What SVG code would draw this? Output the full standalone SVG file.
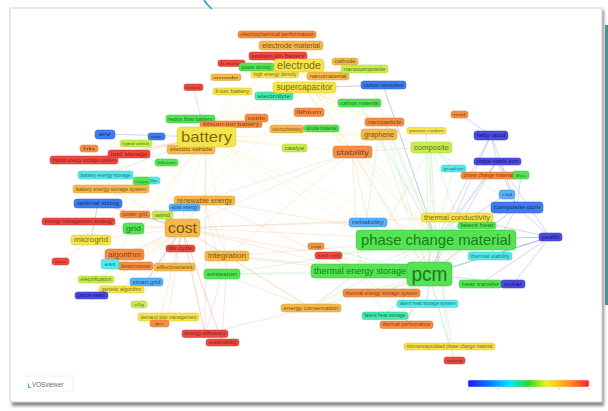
<svg xmlns="http://www.w3.org/2000/svg" width="608" height="411" viewBox="0 0 608 411">
<defs>
<filter id="sh" x="-5%" y="-5%" width="110%" height="110%"><feGaussianBlur stdDeviation="1.8"/></filter>
<linearGradient id="bar" x1="0" y1="0" x2="1" y2="0">
<stop offset="0" stop-color="#1818ff"/><stop offset="0.18" stop-color="#0a7cff"/><stop offset="0.35" stop-color="#08e4ff"/><stop offset="0.5" stop-color="#22e022"/><stop offset="0.65" stop-color="#f2f222"/><stop offset="0.82" stop-color="#ff9a22"/><stop offset="1" stop-color="#ff2222"/>
</linearGradient>
</defs>
<style>
text{font-family:"Liberation Sans",Arial,sans-serif;text-anchor:middle}
.nodes rect{stroke-width:0.5}
.r rect{fill:#ea4a42;stroke:#cf3a33}.r text{fill:#8e1f1a}
.o rect{fill:#f28f45;stroke:#d9742f}.o text{fill:#8c4214}
.oy rect{fill:#f5b84a;stroke:#dc9c30}.oy text{fill:#7d5512}
.y rect{fill:#f4e44e;stroke:#d9c732}.y text{fill:#7c6c0e}
.yg rect{fill:#c8ec52;stroke:#abd036}.yg text{fill:#5b7412}
.g rect{fill:#55e255;stroke:#38c638}.g text{fill:#1a7d1a}
.t rect{fill:#48e8ae;stroke:#2fcb90}.t text{fill:#0f7352}
.c rect{fill:#58e8ea;stroke:#38cacc}.c text{fill:#127a7c}
.lb rect{fill:#5cb0f2;stroke:#3e92d8}.lb text{fill:#154e8e}
.b rect{fill:#3f7cec;stroke:#2c5fcc}.b text{fill:#10307e}
.p rect{fill:#4c4ce2;stroke:#3434c4}.p text{fill:#16167a}
.edges path{fill:none;stroke-width:0.6}
.ey{stroke:#efd860;opacity:0.4}
.eo{stroke:#f0a868;opacity:0.4}
.eg{stroke:#7fd87f;opacity:0.4}
.eb{stroke:#7c7cea;opacity:0.55}
.er{stroke:#ee8a8a;opacity:0.4}
.ec{stroke:#7ee0e2;opacity:0.45}
</style>
<rect x="0" y="0" width="608" height="411" fill="#ffffff"/>
<rect x="12" y="10" width="592" height="396" fill="#8a8a8a" filter="url(#sh)"/>
<rect x="605" y="25" width="3" height="280" fill="#4e8f96"/>
<rect x="10" y="8" width="592" height="394" fill="#ffffff" stroke="#d4d4d4" stroke-width="1"/>
<path d="M204 0 Q207 5 212 9" fill="none" stroke="#2a9fc0" stroke-width="1.6"/>
<g id="connectors" class="edges">
<path class="ey" d="M206 137 L299 66 M206 137 L304 88 M206 137 L232 91 M206 137 L193 87 M206 137 L191 149 M206 137 L182 228 M206 137 L204 200 M206 137 L133 228 M206 137 L91 240 M206 137 L111 189 M206 137 L78 221 M206 137 L84 160 M206 137 L129 154 M206 137 L352 152 M206 137 L379 134 M206 137 L436 240 M206 137 L429 274 M206 137 L227 256 M206 137 L275 74 M206 137 L278 56 M206 137 L277 34 M206 137 L274 96 M206 137 L359 103 M206 137 L294 148 M206 137 L359 271 M206 137 L368 222 M206 137 L124 254 M206 137 L110 264 M206 137 L105 175 M299 66 L304 88 M299 66 L352 152 M299 66 L379 134 M299 66 L436 240 M299 66 L429 274 M304 88 L352 152 M304 88 L379 134 M304 88 L431 147 M304 88 L436 240 M304 88 L384 122 M304 88 L383 85 M304 88 L359 103 M299 66 L364 69 M299 66 L328 76 M304 88 L182 228 M299 66 L182 228 M304 88 L426 130 M304 88 L429 274 M91 240 L133 228 M91 240 L124 254 M91 240 L78 221 M91 240 L110 264 M91 240 L98 203 M457 217 L429 274 M457 217 L352 152"/>
<path class="eo" d="M182 228 L204 200 M182 228 L227 256 M182 228 L133 228 M182 228 L91 240 M182 228 L124 254 M182 228 L98 203 M182 228 L78 221 M182 228 L135 266 M182 228 L174 267 M182 228 L222 274 M182 228 L121 289 M182 228 L146 282 M182 228 L96 279 M182 228 L168 317 M182 228 L205 334 M182 228 L311 308 M182 228 L429 274 M182 228 L436 240 M182 228 L359 271 M182 228 L352 152 M182 228 L368 222 M182 228 L457 217 M182 228 L111 189 M182 228 L162 215 M182 228 L184 207 M182 228 L110 264 M182 228 L91 295 M182 228 L139 304 M182 228 L159 323 M182 228 L222 342 M352 152 L436 240 M352 152 L429 274 M352 152 L379 134 M352 152 L431 147 M352 152 L359 271 M352 152 L384 122 M352 152 L309 112 M352 152 L227 256 M352 152 L204 200 M352 152 L368 222 M227 256 L436 240 M227 256 L359 271 M227 256 L429 274 M227 256 L204 200 M227 256 L311 308 M204 200 L436 240 M204 200 L359 271 M204 200 L133 228 M204 200 L222 274 M381 293 L429 274 M406 324 L436 240 M311 308 L359 271"/>
<path class="eg" d="M436 240 L359 271 M436 240 L379 134 M436 240 L431 147 M436 240 L457 217 M436 240 L517 207 M436 240 L550 237 M436 240 L477 225 M436 240 L490 256 M436 240 L480 284 M436 240 L381 293 M436 240 L427 303 M436 240 L385 315 M436 240 L406 324 M436 240 L449 346 M436 240 L311 308 M436 240 L368 222 M436 240 L359 103 M436 240 L384 122 M436 240 L426 130 M436 240 L383 85 M436 240 L364 69 M436 240 L222 274 M436 240 L328 255 M436 240 L453 168 M436 240 L489 175 M436 240 L497 161 M429 274 L359 271 M429 274 L379 134 M429 274 L431 147 M429 274 L457 217 M429 274 L517 207 M429 274 L550 237 M429 274 L477 225 M429 274 L490 256 M429 274 L480 284 M429 274 L381 293 M429 274 L427 303 M429 274 L385 315 M429 274 L406 324 M429 274 L449 346 M429 274 L311 308 M429 274 L368 222 M429 274 L222 274 M429 274 L454 360 M429 274 L316 246 M429 274 L384 122 M429 274 L426 130 M359 271 L381 293 M359 271 L385 315 M359 271 L311 308 M359 271 L222 274 M359 271 L431 147 M359 271 L379 134 M431 147 L457 217 M431 147 L517 207 M431 147 L379 134 M431 147 L453 168 M359 103 L379 134 M222 274 L311 308"/>
<path class="eb" d="M550 237 L517 207 M550 237 L436 240 M550 237 L429 274 M550 237 L497 161 M497 161 L491 135 M491 135 L436 240 M491 135 L517 207 M517 207 L429 274 M517 207 L497 161 M507 194 L436 240 M513 284 L429 274 M513 284 L550 237 M491 135 L459 114 M491 135 L429 274 M497 161 L429 274 M497 161 L457 217 M550 237 L457 217 M550 237 L490 256 M517 207 L490 256 M507 194 L517 207 M521 175 L517 207 M550 237 L480 284 M105 134 L206 137 M98 203 L182 228 M98 203 L91 240 M146 282 L182 228 M91 295 L121 289 M383 85 L436 240 M383 85 L304 88"/>
<path class="er" d="M205 334 L182 228 M205 334 L311 308 M222 342 L182 228 M78 221 L133 228 M84 160 L206 137 M129 154 L206 137 M278 56 L299 66 M231 63 L299 66 M193 87 L206 137 M60 261 L91 240 M328 255 L359 271 M205 334 L227 256 M222 342 L227 256 M205 334 L206 137 M180 248 L182 228 M454 360 L436 240"/>
<path class="ec" d="M105 175 L206 137 M105 175 L133 228 M110 264 L133 228 M490 256 L429 274 M427 303 L429 274 M453 168 L431 147 M385 315 L429 274 M274 96 L304 88"/>
</g>
<g class="nodes">
<g id="n-electrochemical-performance" class="o"><rect x="238" y="31" width="78" height="7" rx="2.5"/><text x="277" y="36.1" font-size="4.8" textLength="73" lengthAdjust="spacingAndGlyphs">electrochemical performance</text></g>
<g id="n-electrode-material" class="oy"><rect x="259" y="41" width="64" height="9" rx="3"/><text x="291" y="47.6" font-size="6.5" textLength="58" lengthAdjust="spacingAndGlyphs">electrode material</text></g>
<g id="n-sodium-ion-battery" class="r"><rect x="249" y="52" width="58" height="8" rx="2.5"/><text x="278" y="57.7" font-size="5.2" textLength="53" lengthAdjust="spacingAndGlyphs">sodium ion battery</text></g>
<g id="n-li-metal" class="r"><rect x="218" y="60" width="27" height="6.5" rx="2"/><text x="231.5" y="64.7" font-size="4.3" textLength="22" lengthAdjust="spacingAndGlyphs">li metal</text></g>
<g id="n-power-density" class="g"><rect x="239" y="63" width="35" height="8" rx="2.5"/><text x="256.5" y="68.6" font-size="4.8" textLength="30" lengthAdjust="spacingAndGlyphs">power density</text></g>
<g id="n-high-energy-density" class="y"><rect x="251" y="71" width="48" height="7" rx="2.5"/><text x="275" y="76" font-size="4.5" textLength="43" lengthAdjust="spacingAndGlyphs">high energy density</text></g>
<g id="n-nanomaterial" class="oy"><rect x="307" y="72" width="42" height="8" rx="2.5"/><text x="328" y="77.6" font-size="4.8" textLength="37" lengthAdjust="spacingAndGlyphs">nanomaterial</text></g>
<g id="n-cathode" class="oy"><rect x="332" y="58" width="26" height="7" rx="2.5"/><text x="345" y="63" font-size="4.5" textLength="21" lengthAdjust="spacingAndGlyphs">cathode</text></g>
<g id="n-nanocomposite" class="yg"><rect x="341" y="65" width="47" height="8" rx="2.5"/><text x="364.5" y="70.6" font-size="4.8" textLength="42" lengthAdjust="spacingAndGlyphs">nanocomposite</text></g>
<g id="n-anode" class="oy"><rect x="211" y="74" width="30" height="6.5" rx="2"/><text x="226" y="78.7" font-size="4.3" textLength="25" lengthAdjust="spacingAndGlyphs">anode</text></g>
<g id="n-lead-acid" class="r"><rect x="184" y="84" width="19" height="6.5" rx="2"/><text x="193.5" y="88.6" font-size="4" textLength="14" lengthAdjust="spacingAndGlyphs">lead acid</text></g>
<g id="n-li-ion-battery" class="y"><rect x="213" y="88" width="39" height="7" rx="2.5"/><text x="232.5" y="93" font-size="4.6" textLength="34" lengthAdjust="spacingAndGlyphs">li-ion battery</text></g>
<g id="n-electrolyte" class="t"><rect x="255" y="92" width="38" height="8" rx="2.5"/><text x="274" y="97.6" font-size="4.8" textLength="33" lengthAdjust="spacingAndGlyphs">electrolyte</text></g>
<g id="n-carbon-nanotubes" class="b"><rect x="361" y="81" width="45" height="8" rx="2.5"/><text x="383.5" y="86.6" font-size="4.8" textLength="40" lengthAdjust="spacingAndGlyphs">carbon nanotubes</text></g>
<g id="n-carbon-material" class="g"><rect x="338" y="99" width="43" height="8" rx="2.5"/><text x="359.5" y="104.6" font-size="4.8" textLength="38" lengthAdjust="spacingAndGlyphs">carbon material</text></g>
<g id="n-lithium" class="o"><rect x="294" y="108" width="30" height="8.5" rx="2.5"/><text x="309" y="113.8" font-size="4.8" textLength="25" lengthAdjust="spacingAndGlyphs">lithium</text></g>
<g id="n-nanoparticle" class="o"><rect x="365" y="118" width="39" height="8" rx="2.5"/><text x="384.5" y="123.6" font-size="4.8" textLength="34" lengthAdjust="spacingAndGlyphs">nanoparticle</text></g>
<g id="n-porous-carbon" class="y"><rect x="407" y="127.5" width="39" height="6.5" rx="2"/><text x="426.5" y="132.2" font-size="4.3" textLength="34" lengthAdjust="spacingAndGlyphs">porous carbon</text></g>
<g id="n-mof" class="o"><rect x="451" y="111" width="17" height="7" rx="2.5"/><text x="459.5" y="116" font-size="4.3" textLength="12" lengthAdjust="spacingAndGlyphs">mof</text></g>
<g id="n-fatty-acid" class="p"><rect x="474" y="131" width="34" height="9" rx="3"/><text x="491" y="137.1" font-size="4.8" textLength="29" lengthAdjust="spacingAndGlyphs">fatty acid</text></g>
<g id="n-redox-flow-battery" class="g"><rect x="166" y="115" width="49" height="8" rx="2.5"/><text x="190.5" y="120.6" font-size="4.8" textLength="44" lengthAdjust="spacingAndGlyphs">redox flow battery</text></g>
<g id="n-lithium-ion-battery" class="o"><rect x="200" y="121" width="62" height="6.5" rx="2"/><text x="231" y="125.7" font-size="4.5" textLength="56" lengthAdjust="spacingAndGlyphs">lithium-ion battery</text></g>
<g id="n-oxide" class="o"><rect x="245" y="114" width="23" height="8" rx="2.5"/><text x="256.5" y="119.5" font-size="4.5" textLength="18" lengthAdjust="spacingAndGlyphs">oxide</text></g>
<g id="n-electrochemistry" class="oy"><rect x="270" y="125" width="34" height="8" rx="2.5"/><text x="287" y="130.5" font-size="4.5" textLength="29" lengthAdjust="spacingAndGlyphs">electrochemistry</text></g>
<g id="n-anode-material" class="g"><rect x="304" y="125" width="35" height="7" rx="2.5"/><text x="321.5" y="130" font-size="4.5" textLength="30" lengthAdjust="spacingAndGlyphs">anode material</text></g>
<g id="n-ev" class="b"><rect x="95" y="130" width="20" height="9" rx="3"/><text x="105" y="136" font-size="4.5" textLength="12" lengthAdjust="spacingAndGlyphs">ev</text></g>
<g id="n-soc" class="b"><rect x="148" y="133" width="17" height="7" rx="2.5"/><text x="156.5" y="138" font-size="4.3" textLength="12" lengthAdjust="spacingAndGlyphs">soc</text></g>
<g id="n-hybrid-vehicle" class="yg"><rect x="120" y="140" width="32" height="7" rx="2.5"/><text x="136" y="145" font-size="4.3" textLength="27" lengthAdjust="spacingAndGlyphs">hybrid vehicle</text></g>
<g id="n-lib" class="o"><rect x="80" y="145" width="18" height="7" rx="2.5"/><text x="89" y="150" font-size="4.3" textLength="12" lengthAdjust="spacingAndGlyphs">lib</text></g>
<g id="n-grid-storage" class="r"><rect x="108" y="150" width="42" height="8" rx="2.5"/><text x="129" y="155.5" font-size="4.6" textLength="37" lengthAdjust="spacingAndGlyphs">grid storage</text></g>
<g id="n-hybrid-energy-storage-system" class="r"><rect x="50" y="156" width="68" height="8" rx="2.5"/><text x="84" y="161.5" font-size="4.6" textLength="63" lengthAdjust="spacingAndGlyphs">hybrid energy storage system</text></g>
<g id="n-electric-vehicle" class="oy"><rect x="167" y="145" width="48" height="9" rx="3"/><text x="191" y="151.3" font-size="5.5" textLength="42" lengthAdjust="spacingAndGlyphs">electric vehicle</text></g>
<g id="n-lithium-green" class="g"><rect x="155" y="159" width="23" height="7" rx="2.5"/><text x="166.5" y="164" font-size="4.3" textLength="18" lengthAdjust="spacingAndGlyphs">lithium</text></g>
<g id="n-catalyst" class="yg"><rect x="282" y="144" width="25" height="8" rx="2.5"/><text x="294.5" y="149.5" font-size="4.5" textLength="20" lengthAdjust="spacingAndGlyphs">catalyst</text></g>
<g id="n-battery-energy-storage" class="c"><rect x="78" y="171" width="55" height="8" rx="2.5"/><text x="105.5" y="176.5" font-size="4.6" textLength="50" lengthAdjust="spacingAndGlyphs">battery energy storage</text></g>
<g id="n-lfp" class="c"><rect x="148" y="177" width="12" height="7" rx="2.5"/><text x="154" y="182" font-size="4" textLength="7" lengthAdjust="spacingAndGlyphs">lfp</text></g>
<g id="n-charging" class="g"><rect x="133" y="177" width="17" height="8" rx="2.5"/><text x="141.5" y="182.5" font-size="4.3" textLength="13" lengthAdjust="spacingAndGlyphs">charging</text></g>
<g id="n-battery-energy-storage-system" class="oy"><rect x="73" y="185" width="76" height="8" rx="2.5"/><text x="111" y="190.6" font-size="4.8" textLength="70" lengthAdjust="spacingAndGlyphs">battery energy storage system</text></g>
<g id="n-optimal-sizing" class="b"><rect x="74" y="199" width="48" height="9" rx="3"/><text x="98" y="205.2" font-size="5" textLength="42" lengthAdjust="spacingAndGlyphs">optimal sizing</text></g>
<g id="n-power-grid" class="o"><rect x="120" y="211" width="30" height="7" rx="2.5"/><text x="135" y="216" font-size="4.5" textLength="25" lengthAdjust="spacingAndGlyphs">power grid</text></g>
<g id="n-wind" class="yg"><rect x="152" y="211" width="21" height="8" rx="2.5"/><text x="162.5" y="216.5" font-size="4.5" textLength="15" lengthAdjust="spacingAndGlyphs">wind</text></g>
<g id="n-energy-management-strategy" class="r"><rect x="42" y="218" width="73" height="7" rx="2.5"/><text x="78.5" y="223" font-size="4.5" textLength="68" lengthAdjust="spacingAndGlyphs">energy management strategy</text></g>
<g id="n-grid" class="g"><rect x="123" y="223" width="21" height="11" rx="3"/><text x="133.5" y="231.1" font-size="8" textLength="15" lengthAdjust="spacingAndGlyphs">grid</text></g>
<g id="n-microgrid" class="y"><rect x="71" y="235" width="40" height="10" rx="3"/><text x="91" y="242.3" font-size="7" textLength="34" lengthAdjust="spacingAndGlyphs">microgrid</text></g>
<g id="n-algorithm" class="o"><rect x="105" y="249" width="39" height="11" rx="3"/><text x="124.5" y="256.8" font-size="7" textLength="33" lengthAdjust="spacingAndGlyphs">algorithm</text></g>
<g id="n-loss" class="r"><rect x="52" y="258" width="17" height="7" rx="2.5"/><text x="60.5" y="263" font-size="4.3" textLength="11" lengthAdjust="spacingAndGlyphs">loss</text></g>
<g id="n-demand-response" class="o"><rect x="118" y="262" width="35" height="8" rx="2.5"/><text x="135.5" y="267.5" font-size="4.5" textLength="29" lengthAdjust="spacingAndGlyphs">demand response</text></g>
<g id="n-ess" class="c"><rect x="101" y="259" width="18" height="10" rx="3"/><text x="110" y="265.8" font-size="5.5" textLength="11" lengthAdjust="spacingAndGlyphs">ess</text></g>
<g id="n-renewable-energy" class="oy"><rect x="174" y="196" width="61" height="9" rx="3"/><text x="204.5" y="202.6" font-size="6.5" textLength="55" lengthAdjust="spacingAndGlyphs">renewable energy</text></g>
<g id="n-solar-energy" class="lb"><rect x="169" y="204" width="31" height="7" rx="2.5"/><text x="184.5" y="209" font-size="4.5" textLength="26" lengthAdjust="spacingAndGlyphs">solar energy</text></g>
<g id="n-lifecycle" class="r"><rect x="166" y="245" width="29" height="7" rx="2.5"/><text x="180.5" y="250" font-size="4.5" textLength="24" lengthAdjust="spacingAndGlyphs">life cycle</text></g>
<g id="n-integration" class="oy"><rect x="205" y="251" width="44" height="10" rx="3"/><text x="227" y="258.3" font-size="7" textLength="38" lengthAdjust="spacingAndGlyphs">integration</text></g>
<g id="n-effectiveness" class="oy"><rect x="154" y="263" width="41" height="8" rx="2.5"/><text x="174.5" y="268.6" font-size="4.8" textLength="36" lengthAdjust="spacingAndGlyphs">effectiveness</text></g>
<g id="n-emission" class="g"><rect x="204" y="269" width="36" height="10" rx="3"/><text x="222" y="275.8" font-size="5.5" textLength="30" lengthAdjust="spacingAndGlyphs">emission</text></g>
<g id="n-graphite" class="c"><rect x="441" y="165" width="25" height="7" rx="2.5"/><text x="453.5" y="170" font-size="4.3" textLength="20" lengthAdjust="spacingAndGlyphs">graphite</text></g>
<g id="n-reliability" class="lb"><rect x="349" y="218" width="38" height="9" rx="3"/><text x="368" y="224.3" font-size="5.5" textLength="32" lengthAdjust="spacingAndGlyphs">reliability</text></g>
<g id="n-cop" class="o"><rect x="308" y="243" width="16" height="6.5" rx="2"/><text x="316" y="247.6" font-size="4" textLength="10" lengthAdjust="spacingAndGlyphs">cop</text></g>
<g id="n-fuel-cell" class="r"><rect x="315" y="252" width="27" height="7" rx="2.5"/><text x="328.5" y="257" font-size="4.3" textLength="22" lengthAdjust="spacingAndGlyphs">fuel cell</text></g>
<g id="n-shape-stable-pcm" class="p"><rect x="474" y="158" width="47" height="7" rx="2.5"/><text x="497.5" y="163" font-size="4.5" textLength="42" lengthAdjust="spacingAndGlyphs">shape-stable pcm</text></g>
<g id="n-phase-change-materials" class="o"><rect x="461" y="172" width="57" height="7" rx="2.5"/><text x="489.5" y="177" font-size="4.5" textLength="52" lengthAdjust="spacingAndGlyphs">phase change materials</text></g>
<g id="n-lhs" class="g"><rect x="513" y="171" width="16" height="8" rx="2.5"/><text x="521" y="176.5" font-size="4.3" textLength="10" lengthAdjust="spacingAndGlyphs">lhs</text></g>
<g id="n-cfd" class="lb"><rect x="499" y="190" width="16" height="9" rx="3"/><text x="507" y="196" font-size="4.3" textLength="10" lengthAdjust="spacingAndGlyphs">cfd</text></g>
<g id="n-composite-pcm" class="b"><rect x="491" y="202" width="52" height="11" rx="3"/><text x="517" y="209.3" font-size="5.5" textLength="46" lengthAdjust="spacingAndGlyphs">composite pcm</text></g>
<g id="n-latent-heat" class="g"><rect x="458" y="222" width="38" height="7" rx="2.5"/><text x="477" y="227" font-size="4.5" textLength="33" lengthAdjust="spacingAndGlyphs">latent heat</text></g>
<g id="n-paraffin" class="p"><rect x="539" y="233" width="23" height="8" rx="2.5"/><text x="550.5" y="238.5" font-size="4.5" textLength="18" lengthAdjust="spacingAndGlyphs">paraffin</text></g>
<g id="n-thermal-stability" class="c"><rect x="468" y="252" width="44" height="8" rx="2.5"/><text x="490" y="257.5" font-size="4.5" textLength="39" lengthAdjust="spacingAndGlyphs">thermal stability</text></g>
<g id="n-heat-transfer" class="g"><rect x="459" y="280" width="43" height="8" rx="2.5"/><text x="480.5" y="285.5" font-size="4.5" textLength="37" lengthAdjust="spacingAndGlyphs">heat transfer</text></g>
<g id="n-solar" class="p"><rect x="501" y="280" width="24" height="8" rx="2.5"/><text x="513" y="285.5" font-size="4.5" textLength="19" lengthAdjust="spacingAndGlyphs">solar</text></g>
<g id="n-electrification" class="yg"><rect x="78" y="276" width="36" height="7" rx="2.5"/><text x="96" y="281" font-size="4.5" textLength="31" lengthAdjust="spacingAndGlyphs">electrification</text></g>
<g id="n-smart-grid" class="lb"><rect x="130" y="278" width="33" height="8" rx="2.5"/><text x="146.5" y="283.5" font-size="4.5" textLength="28" lengthAdjust="spacingAndGlyphs">smart grid</text></g>
<g id="n-genetic-algorithm" class="y"><rect x="99" y="286" width="45" height="7" rx="2.5"/><text x="121.5" y="291" font-size="4.5" textLength="40" lengthAdjust="spacingAndGlyphs">genetic algorithm</text></g>
<g id="n-particle-swarm" class="p"><rect x="75" y="292" width="33" height="7" rx="2.5"/><text x="91.5" y="297" font-size="4.5" textLength="28" lengthAdjust="spacingAndGlyphs">particle swarm</text></g>
<g id="n-v2g" class="yg"><rect x="131" y="301" width="16" height="7" rx="2.5"/><text x="139" y="306" font-size="4.3" textLength="10" lengthAdjust="spacingAndGlyphs">v2g</text></g>
<g id="n-demand-side-management" class="y"><rect x="138" y="313" width="61" height="8" rx="2.5"/><text x="168.5" y="318.5" font-size="4.6" textLength="56" lengthAdjust="spacingAndGlyphs">demand side management</text></g>
<g id="n-pv" class="o"><rect x="150" y="320" width="19" height="7" rx="2.5"/><text x="159.5" y="325" font-size="4.3" textLength="8" lengthAdjust="spacingAndGlyphs">pv</text></g>
<g id="n-energy-conservation" class="oy"><rect x="281" y="304" width="60" height="8" rx="2.5"/><text x="311" y="309.6" font-size="4.8" textLength="55" lengthAdjust="spacingAndGlyphs">energy conservation</text></g>
<g id="n-energy-efficiency" class="r"><rect x="182" y="330" width="46" height="7.5" rx="2.5"/><text x="205" y="335.3" font-size="4.6" textLength="41" lengthAdjust="spacingAndGlyphs">energy efficiency</text></g>
<g id="n-sustainability" class="r"><rect x="206" y="339" width="33" height="7" rx="2.5"/><text x="222.5" y="344" font-size="4.5" textLength="28" lengthAdjust="spacingAndGlyphs">sustainability</text></g>
<g id="n-thermal-energy-storage-system" class="o"><rect x="343" y="289" width="77" height="8" rx="2.5"/><text x="381.5" y="294.6" font-size="4.8" textLength="72" lengthAdjust="spacingAndGlyphs">thermal energy storage system</text></g>
<g id="n-latent-heat-storage-system" class="c"><rect x="397" y="300" width="61" height="7.5" rx="2.5"/><text x="427.5" y="305.3" font-size="4.6" textLength="56" lengthAdjust="spacingAndGlyphs">latent heat storage system</text></g>
<g id="n-latent-heat-storage" class="t"><rect x="362" y="312" width="46" height="7.5" rx="2.5"/><text x="385" y="317.3" font-size="4.6" textLength="41" lengthAdjust="spacingAndGlyphs">latent heat storage</text></g>
<g id="n-thermal-performance" class="o"><rect x="380" y="321" width="53" height="7.5" rx="2.5"/><text x="406.5" y="326.3" font-size="4.6" textLength="48" lengthAdjust="spacingAndGlyphs">thermal performance</text></g>
<g id="n-microencapsulated-pcm" class="y"><rect x="404" y="343" width="91" height="7" rx="2.5"/><text x="449.5" y="348" font-size="4.5" textLength="86" lengthAdjust="spacingAndGlyphs">microencapsulated phase change material</text></g>
<g id="n-safety" class="r"><rect x="444" y="357" width="21" height="7" rx="2.5"/><text x="454.5" y="362" font-size="4.3" textLength="16" lengthAdjust="spacingAndGlyphs">safety</text></g>
<g id="n-graphene" class="oy"><rect x="361" y="129" width="36" height="11" rx="3"/><text x="379" y="137.1" font-size="8" textLength="30" lengthAdjust="spacingAndGlyphs">graphene</text></g>
<g id="n-composite" class="yg"><rect x="411" y="142" width="41" height="11" rx="3"/><text x="431.5" y="150.2" font-size="7.5" textLength="35" lengthAdjust="spacingAndGlyphs">composite</text></g>
<g id="n-stability" class="o"><rect x="333" y="146" width="39" height="12" rx="3"/><text x="352.5" y="154.6" font-size="8" textLength="33" lengthAdjust="spacingAndGlyphs">stability</text></g>
<g id="n-thermal-conductivity" class="y"><rect x="421" y="213" width="72" height="9" rx="3"/><text x="457" y="219.6" font-size="6.5" textLength="66" lengthAdjust="spacingAndGlyphs">thermal conductivity</text></g>
<g id="n-supercapacitor" class="y"><rect x="273" y="82" width="63" height="11" rx="3"/><text x="304.5" y="90.3" font-size="8.5" textLength="56" lengthAdjust="spacingAndGlyphs">supercapacitor</text></g>
<g id="n-electrode" class="y"><rect x="274" y="59" width="50" height="13" rx="3.5"/><text x="299" y="69.1" font-size="11" textLength="44" lengthAdjust="spacingAndGlyphs">electrode</text></g>
<g id="n-battery" class="y"><rect x="177" y="127" width="59" height="20" rx="4"/><text x="206.5" y="142" font-size="15" textLength="51" lengthAdjust="spacingAndGlyphs">battery</text></g>
<g id="n-cost" class="oy"><rect x="165" y="219" width="35" height="18" rx="4"/><text x="182.5" y="232.6" font-size="14" textLength="29" lengthAdjust="spacingAndGlyphs">cost</text></g>
<g id="n-phase-change-material" class="g"><rect x="356" y="230" width="160" height="20" rx="4"/><text x="436" y="244.8" font-size="14.5" textLength="150" lengthAdjust="spacingAndGlyphs">phase change material</text></g>
<g id="n-thermal-energy-storage" class="g"><rect x="311" y="264" width="100" height="14" rx="3.5"/><text x="314" y="274.4" font-size="9.5" textLength="92" lengthAdjust="spacingAndGlyphs" style="text-anchor:start">thermal energy storage</text></g>
<g id="n-pcm" class="g"><rect x="407" y="262" width="45" height="24" rx="4"/><text x="429.5" y="280.5" font-size="21" textLength="36" lengthAdjust="spacingAndGlyphs">pcm</text></g>
</g>
<g id="legend">
<rect x="468" y="380" width="121" height="7" rx="1.5" fill="url(#bar)" stroke="#dddddd" stroke-width="0.5"/>
<path d="M468 388 V390 M498 388 V390 M529 388 V390 M559 388 V390 M589 388 V390" stroke="#999" stroke-width="0.5"/>
</g>
<g id="logo">
<rect x="27" y="376" width="46" height="15" fill="#ffffff" stroke="#e6e6e6" stroke-width="0.6"/>
<path d="M28.5 383.5 V387.5 H31" fill="none" stroke="#2aa8a0" stroke-width="0.9"/>
<text x="32" y="387.3" font-size="6.3" fill="#6a6a6a" style="text-anchor:start">VOSviewer</text>
</g>
</svg>
